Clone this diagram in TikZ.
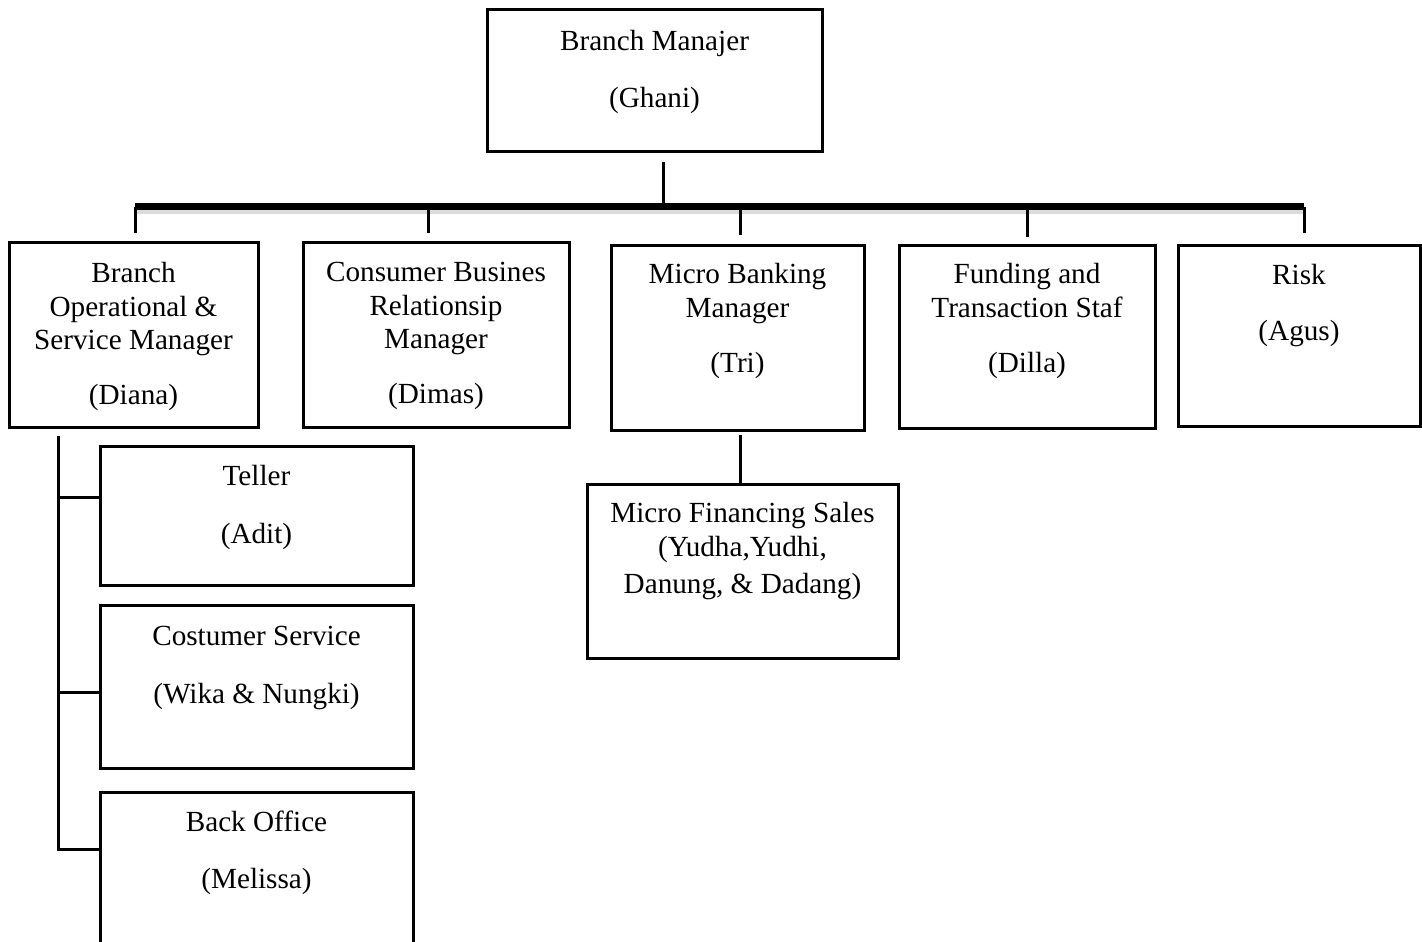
\documentclass[tikz,border=0pt]{standalone}
\usepackage{fontspec}
\setmainfont{Liberation Serif}
\usetikzlibrary{positioning, calc}

\tikzset{
  box/.style={draw, line width=1.5pt, inner sep=0pt},
  txt/.style={align=center, anchor=north, inner sep=0pt, font=\fontsize{14.6}{16.75}\selectfont},
  con/.style={line width=1.5pt},
  bar/.style={line width=3.5pt},
  barshadow/.style={line width=2.5pt, black!14},
}

\begin{document}
\begin{tikzpicture}[x=0.5pt, y=-0.5pt]
      \useasboundingbox (0,0) rectangle (1422,941);
      \clip (0,0) rectangle (1422,941);

      % top
      \node[box, minimum width=167.5pt, minimum height=71pt] (bm) at (654.5,81) {};
      \node[txt] (bmt) at (654.5,30) {Branch Manajer\\[11.5pt](Ghani)};

      % second row
      \node[box, minimum width=124.5pt, minimum height=92.5pt] (ops) at (133.5,334.5) {};
      \node[txt] (opst) at (133.5,262) {Branch\\Operational \&\\Service Manager\\[10.5pt](Diana)};

      \node[box, minimum width=133pt, minimum height=92.5pt] (cbr) at (436,334.5) {};
      \node[txt] (cbrt) at (436,262) {Consumer Busines\\Relationsip\\Manager\\[10.5pt](Dimas)};

      \node[box, minimum width=126.5pt, minimum height=92.5pt] (mbm) at (737.5,337.5) {};
      \node[txt] (mbmt) at (737.5,263) {Micro Banking\\Manager\\[11pt](Tri)};

      \node[box, minimum width=128pt, minimum height=91.5pt] (fts) at (1027,336.5) {};
      \node[txt] (ftst) at (1027,263) {Funding and\\Transaction Staf\\[11pt](Dilla)};

      \node[box, minimum width=121pt, minimum height=90.5pt] (risk) at (1299,335.5) {};
      \node[txt] (riskt) at (1299,264) {Risk\\[11pt](Agus)};

      % under micro banking
      \node[box, minimum width=155.5pt, minimum height=87pt] (mfs) at (742.5,571) {};
      \node[txt] (mfst) at (742.5,502) {Micro Financing Sales\\(Yudha,Yudhi,\\[2pt]Danung, \& Dadang)};

      % under operational
      \node[box, minimum width=156.5pt, minimum height=69.5pt] (tel) at (256.5,515.5) {};
      \node[txt] (telt) at (256.5,465) {Teller\\[12pt](Adit)};

      \node[box, minimum width=156.5pt, minimum height=81.5pt] (cs) at (256.5,686.5) {};
      \node[txt] (cst) at (256.5,626) {Costumer Service\\[12pt](Wika \& Nungki)};

      \node[box, minimum width=156.5pt, minimum height=84pt] (bo) at (256.5,876) {};
      \node[txt] (bot) at (256.5,811) {Back Office\\[11.5pt](Melissa)};

      % bar
      \coordinate (top) at (663,162);
      \coordinate (j1) at (135,207);
      \coordinate (j2) at (428,207);
      \coordinate (j3) at (740,207);
      \coordinate (j4) at (1027,207);
      \coordinate (j5) at (1304,207);

      \draw[barshadow] ([yshift=-2.5pt]j1) -- ([yshift=-2.5pt]j5);
      \draw[bar] (j1) -- (j5);
      \draw[con] (top) -- (top |- j1);

      \draw[con, shorten >=4pt] (j1) -- (j1 |- ops.north);
      \draw[con, shorten >=4pt] (j2) -- (j2 |- cbr.north);
      \draw[con, shorten >=4.5pt] (j3) -- (j3 |- mbm.north);
      \draw[con, shorten >=3.5pt] (j4) -- (j4 |- fts.north);
      \draw[con, shorten >=5.5pt] (j5) -- (j5 |- risk.north);

      \coordinate (mb) at (740,435);
      \draw[con] (mb) -- (mb |- mfs.north);

      % left tree
      \coordinate (tr) at (58,436);
      \coordinate (s1) at (58,497);
      \coordinate (s2) at (58,692);
      \coordinate (s3) at (58,849);
      \draw[con] (tr) -- (s3) -- (s3 -| bo.west);
      \draw[con] (s1) -- (s1 -| tel.west);
      \draw[con] (s2) -- (s2 -| cs.west);

\end{tikzpicture}
\end{document}
